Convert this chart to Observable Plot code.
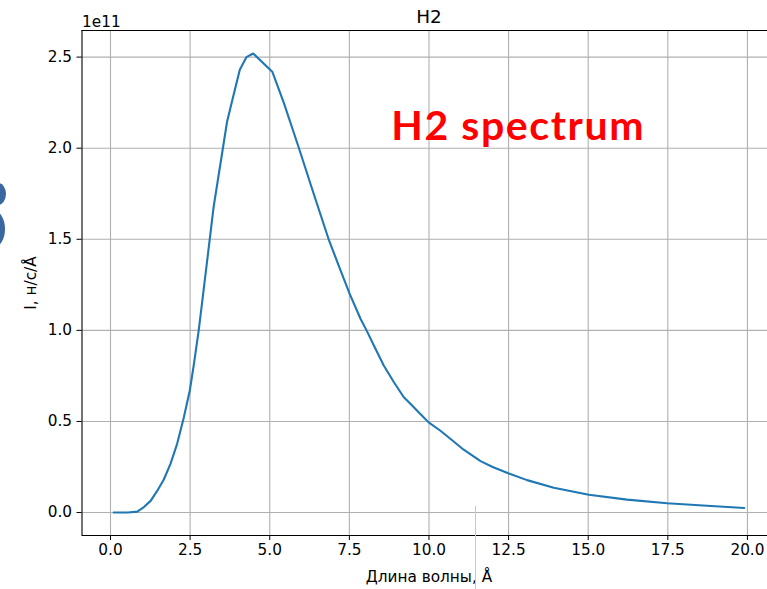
<!DOCTYPE html>
<html><head><meta charset="utf-8">
<script src="https://cdn.jsdelivr.net/npm/d3@7"></script>
<script src="https://cdn.jsdelivr.net/npm/@observablehq/plot@0.6"></script>
<style>body{margin:0;background:#fff;overflow:hidden}</style>
</head><body><div id="chart"></div>
<script>
// Wavelength, Å
const wavelength = [0.1, 0.3, 0.55, 0.84, 1.05, 1.26, 1.47, 1.67, 1.88, 2.09, 2.30, 2.49, 2.62, 2.77, 2.93, 3.24, 3.66, 3.82, 4.06, 4.27, 4.48, 5.08, 5.44, 5.91, 6.38, 6.85, 7.22, 7.51, 7.85, 8.04, 8.27, 8.58, 8.90, 9.21, 9.47, 9.73, 9.99, 10.36, 10.68, 11.09, 11.62, 12.0, 12.51, 13.08, 13.92, 15.02, 16.22, 17.48, 18.73, 19.9];
// Intensity in units of 1e11 (н/с/Å)
const intensity = [0, 0, 0, 0.005, 0.03, 0.064, 0.12, 0.18, 0.266, 0.376, 0.52, 0.67, 0.816, 1.0, 1.23, 1.68, 2.145, 2.26, 2.43, 2.50, 2.52, 2.42, 2.25, 2.004, 1.75, 1.50, 1.33, 1.20, 1.064, 1.0, 0.917, 0.807, 0.715, 0.633, 0.587, 0.541, 0.495, 0.449, 0.404, 0.345, 0.282, 0.250, 0.214, 0.178, 0.136, 0.098, 0.071, 0.051, 0.037, 0.025];
const xTicks = [0, 2.5, 5, 7.5, 10, 12.5, 15, 17.5, 20];
const yTicks = [0, 0.5, 1.0, 1.5, 2.0, 2.5];
const titleText = "H2";
const offsetText = "1e11";
const xLabel = "Длина волны, Å";
const yLabel = "I, н/с/Å";
const annotation = "H2 spectrum";

const data = wavelength.map((x, i) => ({x, y: intensity[i]}));
const xDomain = [-0.895, 20.63];
const yDomain = [-0.126, 2.646];
const xMid = 10;
const fs = 15.3;

const plot = Plot.plot({
  width: 767, height: 589,
  marginLeft: 81.5, marginRight: 0, marginTop: 30, marginBottom: 54,
  style: {fontFamily: "DejaVu Sans", fontSize: fs + "px", background: "white", color: "black", overflow: "visible"},
  x: {domain: xDomain},
  y: {domain: yDomain},
  marks: [
    Plot.gridX(xTicks, {stroke: "#b0b0b0", strokeOpacity: 1, strokeWidth: 1.1}),
    Plot.gridY(yTicks, {stroke: "#b0b0b0", strokeOpacity: 1, strokeWidth: 1.1}),
    Plot.line(data, {x: "x", y: "y", stroke: "#1f77b4", strokeWidth: 2.1}),
    Plot.ruleX([xDomain[0]], {stroke: "black", strokeWidth: 1.1}),
    Plot.ruleY([yDomain[0], yDomain[1]], {stroke: "black", strokeWidth: 1.1}),
    Plot.axisX(xTicks, {tickFormat: d => d.toFixed(1), tickSize: 5, tickPadding: 4, label: null, fontSize: fs}),
    Plot.axisY(yTicks, {tickFormat: d => d.toFixed(1), tickSize: 5, tickPadding: 5, label: null, fontSize: fs}),
    Plot.text([{x: xMid, t: titleText}], {x: "x", text: "t", frameAnchor: "top", lineAnchor: "bottom", dy: -8, fontSize: 18.4}),
    Plot.text([offsetText], {frameAnchor: "top-left", textAnchor: "start", lineAnchor: "bottom", dy: -4, fontSize: fs}),
    Plot.text([{x: xMid, t: xLabel}], {x: "x", text: "t", frameAnchor: "bottom", lineAnchor: "bottom", dy: 46, fontSize: fs}),
    Plot.text([yLabel], {frameAnchor: "left", textAnchor: "middle", rotate: -90, dx: -51, fontSize: fs}),
    Plot.text([{x: 12.8, y: 2.04, t: annotation}], {x: "x", y: "y", text: "t", lineAnchor: "bottom", dy: -1, fill: "#ff0000", fontFamily: "Lato", fontWeight: "bold", fontSize: 41})
  ]
});
document.getElementById("chart").appendChild(plot);

const svg = d3.select(plot);
svg.selectAll("text").filter(function() { return this.textContent === annotation; }).style("letter-spacing", "1.6px");

// scan artifacts at the edges of the reference image
svg.append("ellipse").attr("cx", -2).attr("cy", 194).attr("rx", 8).attr("ry", 11).attr("fill", "#3a67a0");
svg.append("ellipse").attr("cx", -6).attr("cy", 229).attr("rx", 11).attr("ry", 18).attr("fill", "#3a67a0");
svg.append("line").attr("x1", 475.5).attr("x2", 475.5).attr("y1", 506).attr("y2", 589).attr("stroke", "#c8c8c8").attr("stroke-width", 1);
</script>
</body></html>
